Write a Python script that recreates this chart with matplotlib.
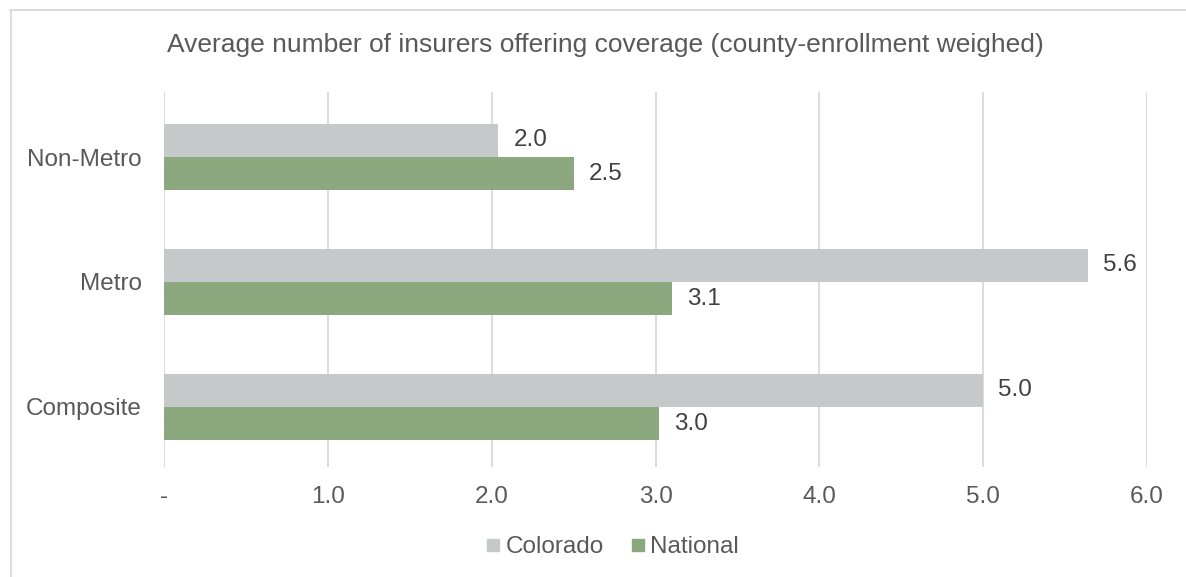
import matplotlib.pyplot as plt
from matplotlib.lines import Line2D

plt.rcParams['font.family'] = ['Liberation Sans', 'DejaVu Sans']

categories = ['Non-Metro', 'Metro', 'Composite']
colorado = [2.04, 5.64, 5.0]
national = [2.50, 3.10, 3.02]
xticks = [0, 1, 2, 3, 4, 5, 6]
xtick_labels = ['-', '1.0', '2.0', '3.0', '4.0', '5.0', '6.0']

c_col = '#C6C9CA'
c_nat = '#8CA87E'
txt = '#595959'

fig = plt.figure(figsize=(11.86, 5.77), dpi=100)
W, H = 1186, 577
ax = fig.add_axes([164 / W, 1 - 467 / H, (1147 - 164) / W, (467 - 92) / H])

h = 0.265
ypos = list(range(len(categories)))
ax.barh([y - h / 2 for y in ypos], colorado, height=h, color=c_col, label='Colorado', zorder=2)
ax.barh([y + h / 2 for y in ypos], national, height=h, color=c_nat, label='National', zorder=2)

for y, v in zip(ypos, colorado):
    ax.annotate(f'{v:.1f}', (v, y - h / 2), xytext=(11, 0), textcoords='offset points',
                va='center', ha='left', fontsize=17.5, color='#404040')
for y, v in zip(ypos, national):
    ax.annotate(f'{v:.1f}', (v, y + h / 2), xytext=(11, 0), textcoords='offset points',
                va='center', ha='left', fontsize=17.5, color='#404040')

ax.set_xlim(0, 6)
ax.set_ylim(2.48, -0.52)
ax.set_yticks(ypos)
ax.set_yticklabels(categories)
ax.set_xticks(xticks)
ax.set_xticklabels(xtick_labels)
ax.tick_params(axis='both', length=0, labelsize=17.5, colors=txt)
ax.tick_params(axis='y', pad=16)
ax.tick_params(axis='x', pad=14)
ax.grid(axis='x', color='#D9D9D9', linewidth=1.3, zorder=0)
for s in ax.spines.values():
    s.set_visible(False)

fig.text(605 / W, 1 - 45 / H, 'Average number of insurers offering coverage (county-enrollment weighed)',
         ha='center', va='center', fontsize=19, color=txt)

handles = [Line2D([], [], marker='s', linestyle='', markersize=8.6, color=c_col),
           Line2D([], [], marker='s', linestyle='', markersize=8.6, color=c_nat)]
fig.legend(handles, ['Colorado', 'National'], loc='center', bbox_to_anchor=(610 / W, 1 - 547 / H),
           ncol=2, frameon=False, fontsize=17.5, labelcolor=txt, handletextpad=0.0,
           columnspacing=0.9, handlelength=1.0)

# outer frame (top and left edges visible)
fig.add_artist(Line2D([10 / W, 1], [1 - 10 / H, 1 - 10 / H], color='#D9D9D9', linewidth=1.3))
fig.add_artist(Line2D([10.5 / W, 10.5 / W], [0, 1 - 10 / H], color='#D9D9D9', linewidth=1.3))

fig.savefig('out.png', dpi=100)
